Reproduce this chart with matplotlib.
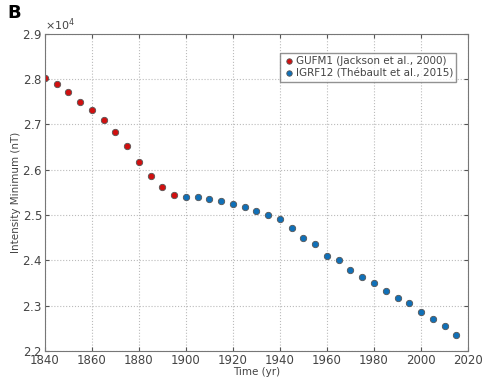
import matplotlib
matplotlib.use("Agg")
import matplotlib.pyplot as plt
from matplotlib.ticker import ScalarFormatter

gufm_years = [1840, 1845, 1850, 1855, 1860, 1865, 1870, 1875, 1880, 1885, 1890, 1895]
gufm_vals = [28020, 27890, 27720, 27500, 27320, 27090, 26840, 26520, 26170, 25860, 25610, 25450]

igrf_years = [1900, 1905, 1910, 1915, 1920, 1925, 1930, 1935, 1940, 1945, 1950, 1955,
              1960, 1965, 1970, 1975, 1980, 1985, 1990, 1995, 2000, 2005, 2010, 2015]
igrf_vals = [25410, 25390, 25360, 25320, 25250, 25170, 25080, 25010, 24920, 24720, 24500, 24360,
             24100, 24000, 23790, 23630, 23500, 23330, 23160, 23050, 22860, 22710, 22550, 22360]

xticks = [1840, 1860, 1880, 1900, 1920, 1940, 1960, 1980, 2000, 2020]
yticks = [22000, 23000, 24000, 25000, 26000, 27000, 28000, 29000]

fig = plt.figure(figsize=(4.83, 3.78), dpi=100)
ax = fig.add_axes([0.093, 0.0714, 0.876, 0.839])

ax.plot(gufm_years, gufm_vals, 'o', ms=4.6, color='#d01010', mec='#555555', mew=0.6,
        label='GUFM1 (Jackson et al., 2000)')
ax.plot(igrf_years, igrf_vals, 'o', ms=4.6, color='#1070b8', mec='#555555', mew=0.6,
        label='IGRF12 (Thébault et al., 2015)')

ax.set_xlim(1840, 2020)
ax.set_ylim(22000, 29000)
ax.set_xticks(xticks)
ax.set_yticks(yticks)
fmt = ScalarFormatter(useMathText=True)
fmt.set_powerlimits((0, 0))
ax.yaxis.set_major_formatter(fmt)
ax.yaxis.get_offset_text().set_fontsize(8)
ax.yaxis.get_offset_text().set_color('#444444')

ax.grid(True, linestyle=':', color='#bbbbbb', linewidth=0.8)
ax.tick_params(direction='in', top=True, right=True, labelsize=8.5, colors='#555555',
               labelcolor='#444444', length=3)
ax.tick_params(axis='x', pad=2)
ax.tick_params(axis='y', pad=2)
for s in ax.spines.values():
    s.set_color('#777777')

ax.set_xlabel('Time (yr)', fontsize=7.5, color='#444444', labelpad=0)
ax.set_ylabel('Intensity Minimum (nT)', fontsize=7.5, color='#444444', labelpad=1)

leg = ax.legend(loc='upper right', bbox_to_anchor=(0.985, 0.955), fontsize=7.5, frameon=True,
                fancybox=False, edgecolor='#777777', handletextpad=0.2, borderpad=0.3,
                labelspacing=0.2, handlelength=1.0, markerscale=0.85)
for t in leg.get_texts():
    t.set_color('#444444')

fig.text(0.015, 0.965, 'B', fontsize=13, fontweight='bold', va='center', ha='left')

fig.savefig('out.png', dpi=100)
